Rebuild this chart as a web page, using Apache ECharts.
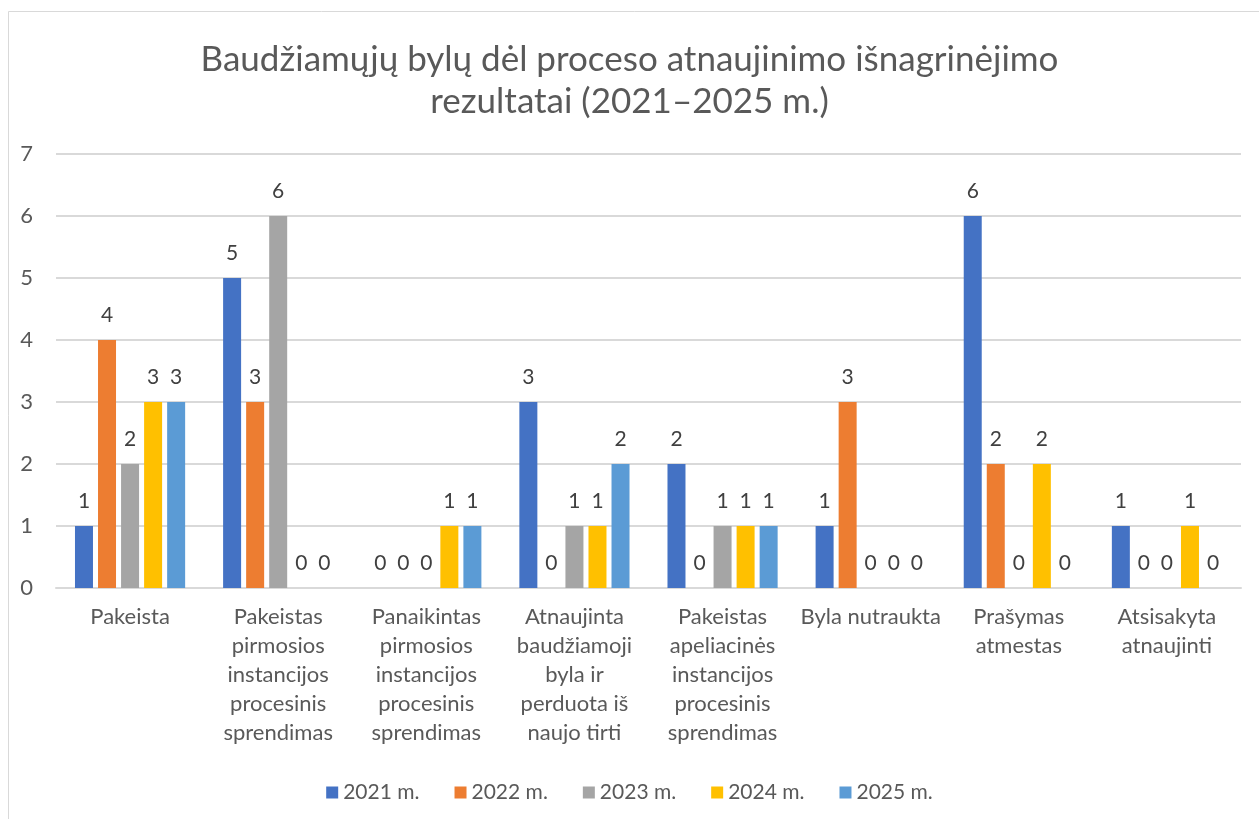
<!DOCTYPE html>
<html>
<head>
<meta charset="utf-8">
<script src="https://cdn.jsdelivr.net/npm/echarts@6/dist/echarts.min.js"></script>
<style>
html,body{margin:0;padding:0;background:#fff;}
#chart{width:1259px;height:819px;}
</style>
</head>
<body>
<div id="chart"></div>
<script>
const titleText = "Baudžiamųjų bylų dėl proceso atnaujinimo išnagrinėjimo\nrezultatai (2021–2025 m.)";
const categories = [
  "Pakeista",
  "Pakeistas\npirmosios\ninstancijos\nprocesinis\nsprendimas",
  "Panaikintas\npirmosios\ninstancijos\nprocesinis\nsprendimas",
  "Atnaujinta\nbaudžiamoji\nbyla ir\nperduota iš\nnaujo tirti",
  "Pakeistas\napeliacinės\ninstancijos\nprocesinis\nsprendimas",
  "Byla nutraukta",
  "Prašymas\natmestas",
  "Atsisakyta\natnaujinti"
];
const seriesNames = ["2021 m.", "2022 m.", "2023 m.", "2024 m.", "2025 m."];
const v2021 = [1, 5, 0, 3, 2, 1, 6, 1];
const v2022 = [4, 3, 0, 0, 0, 3, 2, 0];
const v2023 = [2, 6, 0, 1, 1, 0, 0, 0];
const v2024 = [3, 0, 1, 1, 1, 0, 2, 1];
const v2025 = [3, 0, 1, 2, 1, 0, 0, 0];
const colors = ["#4472C4", "#ED7D31", "#A5A5A5", "#FFC000", "#5B9BD5"];
const yTicks = [0, 1, 2, 3, 4, 5, 6, 7];

const FONT = "Lato";
const allValues = [v2021, v2022, v2023, v2024, v2025];

const chart = echarts.init(document.getElementById('chart'));
chart.setOption({
  backgroundColor: '#ffffff',
  animation: false,
  color: colors,
  graphic: [{
    type: 'rect',
    shape: { x: 8.5, y: 11.5, width: 1400, height: 1000 },
    style: { fill: 'none', stroke: '#d9d9d9', lineWidth: 1 },
    silent: true, z: -1
  }],
  title: {
    text: titleText,
    left: 'center',
    top: 34,
    textStyle: {
      fontFamily: FONT, fontSize: 35, fontWeight: 'normal', color: '#595959',
      lineHeight: 42, align: 'center'
    }
  },
  legend: {
    data: seriesNames,
    bottom: 11,
    left: 'center',
    itemWidth: 12, itemHeight: 12, itemGap: 35,
    icon: 'rect',
    textStyle: { fontFamily: FONT, fontSize: 21, color: '#595959' }
  },
  grid: { left: 56, right: 18, top: 154, bottom: 231, containLabel: false },
  xAxis: {
    type: 'category',
    data: categories,
    axisLine: { show: true, lineStyle: { color: '#d9d9d9', width: 2 } },
    axisTick: { show: false },
    axisLabel: {
      interval: 0, fontFamily: FONT, fontSize: 22, color: '#595959',
      lineHeight: 29, margin: 14, align: 'center'
    }
  },
  yAxis: {
    type: 'value',
    min: 0, max: 7, interval: 1,
    axisLine: { show: false },
    axisTick: { show: false },
    splitLine: { lineStyle: { color: '#d9d9d9', width: 2 } },
    axisLabel: {
      fontFamily: FONT, fontSize: 22, color: '#595959', margin: 23,
      formatter: v => yTicks.includes(v) ? String(v) : ''
    }
  },
  series: seriesNames.map((name, i) => ({
    name: name,
    type: 'bar',
    data: allValues[i],
    barWidth: 18,
    barGap: '28%',
    itemStyle: { color: colors[i] },
    label: {
      show: true, position: 'top', distance: 14,
      fontFamily: FONT, fontSize: 21, color: '#404040'
    }
  }))
});
</script>
</body>
</html>
